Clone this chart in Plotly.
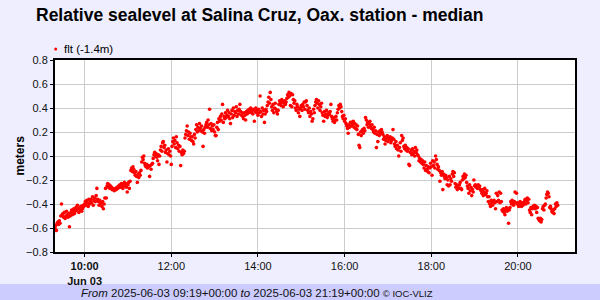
import pandas as pd
import plotly.graph_objects as go

START = "2025-06-03 09:19"
X_RANGE = ["2025-06-03 09:19", "2025-06-03 21:19"]

# Relative sea level (m), one value per minute from 09:19
flt = [
    -0.60, -0.58, -0.62, -0.56, -0.55, -0.57, -0.54, -0.56, -0.50, -0.40,
    -0.49, -0.48, -0.51, -0.47, -0.52, -0.50, -0.46, -0.49, -0.51, -0.48,
    -0.59, -0.50, -0.47, -0.45, -0.49, -0.46, -0.44, -0.48, -0.46, -0.43,
    -0.45, -0.41, -0.44, -0.47, -0.43, -0.45, -0.42, -0.46, -0.44, -0.41,
    -0.42, -0.40, -0.38, -0.41, -0.37, -0.39, -0.42, -0.36, -0.40, -0.38,
    -0.36, -0.39, -0.34, -0.41, -0.37, -0.35, -0.38, -0.33, -0.27, -0.36,
    -0.38, -0.41, -0.37, -0.40, -0.39, -0.42, -0.38, -0.44, -0.40, -0.35,
    -0.27, -0.35, -0.25, -0.23, -0.26, -0.24, -0.27, -0.25, -0.26, -0.28,
    -0.27, -0.28, -0.29, -0.28, -0.27, -0.28, -0.26, -0.27, -0.25, -0.26,
    -0.24, -0.26, -0.23, -0.25, -0.27, -0.24, -0.22, -0.25, -0.23, -0.26,
    -0.30, -0.24, -0.22, -0.27, -0.21, -0.12, -0.10, -0.13, -0.09, -0.11,
    -0.14, -0.16, -0.13, -0.17, -0.22, -0.15, -0.18, -0.14, -0.16, -0.12,
    -0.05, -0.01, -0.03, 0.00, -0.06, -0.08, -0.09, -0.07, -0.10, -0.08,
    -0.09, -0.17, -0.08, -0.11, -0.07, -0.06, -0.02, 0.01, 0.03, 0.00,
    0.02, -0.01, -0.04, 0.01, -0.07, 0.00, 0.05, 0.08, 0.04, 0.11,
    0.12, 0.07, 0.09, 0.03, 0.05, -0.05, 0.02, 0.06, 0.01, 0.04,
    0.00, -0.07, 0.08, 0.12, 0.15, 0.10, 0.13, 0.07, 0.16, 0.11,
    0.06, 0.09, 0.04, 0.08, -0.08, 0.03, 0.01, 0.05, 0.02, 0.04,
    0.15, 0.18, 0.21, 0.25, 0.17, 0.20, 0.14, 0.19, 0.16, 0.13,
    0.16, 0.12, 0.10, 0.18, 0.15, 0.22, 0.26, 0.20, 0.24, 0.21,
    0.27, 0.23, 0.21, 0.25, 0.20, 0.08, 0.22, 0.19, 0.24, 0.26,
    0.28, 0.24, 0.30, 0.26, 0.39, 0.23, 0.27, 0.21, 0.25, 0.22,
    0.26, 0.20, 0.17, 0.17, 0.24, 0.28, 0.22, 0.31, 0.29, 0.33,
    0.30, 0.35, 0.43, 0.28, 0.33, 0.31, 0.36, 0.32, 0.34, 0.38,
    0.33, 0.36, 0.31, 0.27, 0.35, 0.38, 0.32, 0.40, 0.34, 0.37,
    0.36, 0.41, 0.33, 0.38, 0.35, 0.39, 0.43, 0.37, 0.34, 0.36,
    0.33, 0.31, 0.36, 0.34, 0.30, 0.37, 0.35, 0.38, 0.36, 0.39,
    0.37, 0.40, 0.36, 0.38, 0.35, 0.39, 0.29, 0.37, 0.40, 0.36,
    0.38, 0.34, 0.39, 0.36, 0.50, 0.37, 0.33, 0.40, 0.35, 0.38,
    0.28, 0.35, 0.39, 0.37, 0.42, 0.45, 0.49, 0.44, 0.53, 0.47,
    0.41, 0.38, 0.43, 0.36, 0.40, 0.44, 0.39, 0.37, 0.35, 0.38,
    0.43, 0.46, 0.44, 0.42, 0.47, 0.45, 0.41, 0.44, 0.46, 0.43,
    0.45, 0.48, 0.51, 0.49, 0.53, 0.50, 0.42, 0.52, 0.41, 0.51,
    0.47, 0.44, 0.46, 0.40, 0.38, 0.43, 0.41, 0.36, 0.39, 0.33,
    0.40, 0.42, 0.38, 0.43, 0.41, 0.45, 0.39, 0.45, 0.46, 0.42,
    0.38, 0.36, 0.40, 0.33, 0.37, 0.35, 0.29, 0.31, 0.39, 0.36,
    0.42, 0.45, 0.47, 0.44, 0.40, 0.46, 0.43, 0.38, 0.41, 0.44,
    0.36, 0.34, 0.29, 0.37, 0.33, 0.35, 0.38, 0.32, 0.34, 0.36,
    0.35, 0.37, 0.43, 0.33, 0.31, 0.29, 0.32, 0.28, 0.30, 0.33,
    0.30, 0.36, 0.39, 0.42, 0.40, 0.43, 0.41, 0.37, 0.33, 0.31,
    0.34, 0.29, 0.31, 0.27, 0.25, 0.23, 0.19, 0.26, 0.24, 0.28,
    0.25, 0.28, 0.26, 0.29, 0.24, 0.27, 0.23, 0.26, 0.22, 0.25,
    0.18, 0.09, 0.07, 0.20, 0.17, 0.21, 0.22, 0.19, 0.23, 0.21,
    0.32, 0.30, 0.26, 0.28, 0.24, 0.27, 0.29, 0.25, 0.23, 0.26,
    0.22, 0.20, 0.24, 0.19, 0.21, 0.07, 0.18, 0.12, 0.20, 0.17,
    0.21, 0.19, 0.22, 0.20, 0.18, 0.14, 0.16, 0.10, 0.13, 0.15,
    0.17, 0.12, 0.15, 0.14, 0.16, 0.11, 0.13, 0.15, 0.22, 0.14,
    0.10, 0.08, 0.12, 0.06, 0.09, 0.05, 0.00, 0.07, 0.11, 0.04,
    0.17, 0.13, 0.15, 0.08, 0.06, 0.09, 0.05, 0.07, 0.04, 0.06,
    -0.07, -0.08, 0.03, 0.05, 0.01, 0.06, 0.02, 0.04, 0.00, 0.07,
    0.03, 0.05, 0.01, 0.00, -0.04, -0.02, -0.05, -0.03, -0.06, -0.04,
    -0.07, -0.10, -0.05, -0.12, -0.08, -0.11, -0.13, -0.09, -0.14, -0.10,
    -0.06, -0.09, -0.16, -0.04, -0.08, -0.05, -0.10, 0.00, -0.03, -0.07,
    -0.11, -0.09, -0.12, -0.21, -0.14, -0.16, -0.13, -0.28, -0.15, -0.17,
    -0.19, -0.16, -0.18, -0.24, -0.20, -0.25, -0.17, -0.24, -0.19, -0.21,
    -0.15, -0.13, -0.17, -0.14, -0.23, -0.26, -0.24, -0.28, -0.25, -0.27,
    -0.24, -0.22, -0.27, -0.28, -0.20, -0.17, -0.19, -0.15, -0.18, -0.16,
    -0.22, -0.25, -0.27, -0.31, -0.24, -0.29, -0.26, -0.33, -0.28, -0.30,
    -0.20, -0.25, -0.24, -0.26, -0.25, -0.27, -0.24, -0.26, -0.25, -0.28,
    -0.29, -0.31, -0.28, -0.33, -0.30, -0.27, -0.32, -0.31, -0.29, -0.34,
    -0.38, -0.34, -0.40, -0.42, -0.37, -0.39, -0.41, -0.38, -0.37, -0.39,
    -0.44, -0.31, -0.38, -0.33, -0.37, -0.30, -0.39, -0.31, -0.38, -0.45,
    -0.46, -0.44, -0.47, -0.49, -0.45, -0.43, -0.46, -0.44, -0.56, -0.45,
    -0.43, -0.38, -0.40, -0.37, -0.39, -0.41, -0.38, -0.30, -0.39, -0.31,
    -0.40, -0.39, -0.42, -0.41, -0.38, -0.40, -0.42, -0.39, -0.41, -0.40,
    -0.38, -0.36, -0.40, -0.37, -0.35, -0.39, -0.36, -0.45, -0.47, -0.43,
    -0.49, -0.44, -0.42, -0.43, -0.41, -0.44, -0.42, -0.47, -0.43, -0.52,
    -0.53, -0.54, -0.52, -0.55, -0.53, -0.44, -0.42, -0.45, -0.41, -0.40,
    -0.35, -0.32, -0.30, -0.31, -0.34, -0.43, -0.42, -0.44, -0.46, -0.47,
    -0.45, -0.48, -0.44, -0.40, -0.42, -0.39, -0.41,
]

x_tick_vals = ["2025-06-03 10:00", "2025-06-03 12:00", "2025-06-03 14:00",
               "2025-06-03 16:00", "2025-06-03 18:00", "2025-06-03 20:00"]
x_tick_text = ["<b>10:00</b><br><b>Jun 03</b>", "12:00", "14:00", "16:00", "18:00", "20:00"]
y_tick_vals = [-0.8, -0.6, -0.4, -0.2, 0.0, 0.2, 0.4, 0.6, 0.8]

TITLE = "Relative sealevel at Salina Cruz, Oax. station - median"
SERIES_NAME = "flt (-1.4m)"
Y_TITLE = "meters"

times = pd.date_range(START, periods=len(flt), freq="1min")

FONT = "Liberation Sans, Arial, sans-serif"
W, H = 600, 300
L, R, T, B = 55, 25, 60, 48
PW, PH = W - L - R, H - T - B

def px(xp):
    return (xp - L) / PW

def py(yp):
    return (H - B - yp) / PH

fig = go.Figure()
fig.add_trace(go.Scatter(
    x=times, y=flt, mode="markers", name=SERIES_NAME,
    marker=dict(color="#ff0000", size=3.6, symbol="circle", line=dict(width=0)),
    showlegend=False,
))

fig.update_layout(
    width=W, height=H,
    margin=dict(l=L, r=R, t=T, b=B, pad=0),
    paper_bgcolor="#eeeeff",
    plot_bgcolor="#ffffff",
    font=dict(family=FONT, size=11, color="#111111"),
    shapes=[
        dict(type="rect", xref="paper", yref="paper",
             x0=px(0), x1=px(W), y0=py(H), y1=py(284),
             fillcolor="#ccccff", line=dict(width=0), layer="below"),
        dict(type="circle", xref="paper", yref="paper",
             x0=px(54.2), x1=px(57.2), y0=py(50.5), y1=py(47.5),
             fillcolor="#ff0000", line=dict(width=0)),
    ],
    annotations=[
        dict(text="<b>" + TITLE + "</b>", xref="paper", yref="paper",
             x=px(259.5), y=py(15), xanchor="center", yanchor="middle",
             showarrow=False, font=dict(size=17.5, color="#000000", family=FONT)),
        dict(text=SERIES_NAME, xref="paper", yref="paper",
             x=px(62), y=py(48.5), xanchor="left", yanchor="middle",
             showarrow=False, font=dict(size=11.5, color="#000000", family=FONT)),
        dict(text="<b>" + Y_TITLE + "</b>", xref="paper", yref="paper",
             x=px(19.5), y=py(156), xanchor="center", yanchor="middle", textangle=-90,
             showarrow=False, font=dict(size=12, color="#000000", family=FONT)),
        dict(text="<i>From</i> 2025-06-03 09:19+00:00 <i>to</i> 2025-06-03 21:19+00:00 "
                  "<span style='font-size:9.5px'>© IOC-VLIZ</span>",
             xref="paper", yref="paper",
             x=px(257), y=py(292.5), xanchor="center", yanchor="middle",
             showarrow=False, font=dict(size=11.5, color="#111111", family=FONT)),
    ],
)

fig.update_xaxes(
    type="date", range=X_RANGE,
    tickmode="array", tickvals=x_tick_vals, ticktext=x_tick_text,
    showgrid=True, gridcolor="#cccccc", gridwidth=1,
    showline=True, linecolor="#000000", linewidth=2, mirror=True,
    ticks="outside", ticklen=3, tickcolor="#000000", tickwidth=1,
    tickfont=dict(size=11, color="#111111"),
    zeroline=False, fixedrange=True,
)
fig.update_yaxes(
    range=[-0.8, 0.8],
    tickmode="array", tickvals=y_tick_vals, tickformat=".1f",
    showgrid=True, gridcolor="#cccccc", gridwidth=1,
    showline=True, linecolor="#000000", linewidth=2, mirror=True,
    ticks="outside", ticklen=3, tickcolor="#000000", tickwidth=1,
    tickfont=dict(size=11, color="#111111"),
    zeroline=False, fixedrange=True,
)

fig.write_html("out.html", config={"displayModeBar": False})
